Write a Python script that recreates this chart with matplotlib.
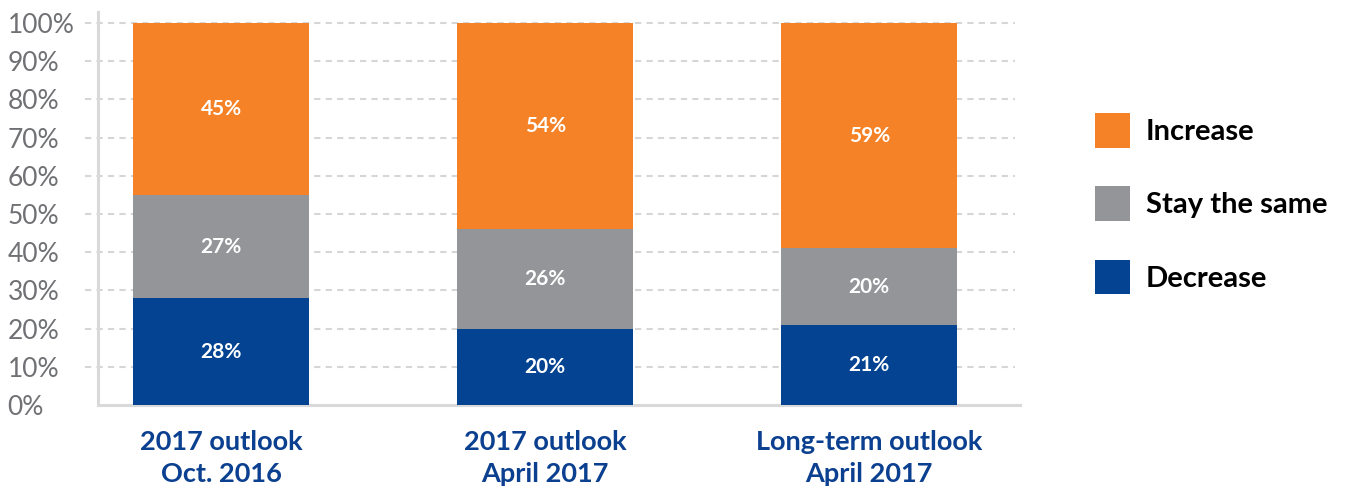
import matplotlib
matplotlib.use("Agg")
import matplotlib.pyplot as plt
from matplotlib.patches import Patch
import numpy as np

categories = ["2017 outlook\nOct. 2016", "2017 outlook\nApril 2017", "Long-term outlook\nApril 2017"]
decrease = [28, 20, 21]
stay_same = [27, 26, 20]
increase = [45, 54, 59]
series_names = ["Increase", "Stay the same", "Decrease"]
ytick_values = [0, 10, 20, 30, 40, 50, 60, 70, 80, 90, 100]
ytick_labels = [f"{v}%" for v in ytick_values]

c_inc = "#F58227"
c_same = "#939598"
c_dec = "#034391"
c_cat = "#0B3F8F"
c_grid = "#D6D6D6"

plt.rcParams["font.family"] = ["Lato", "DejaVu Sans"]

fig = plt.figure(figsize=(13.46, 4.91), dpi=100)
ax = fig.add_axes([98 / 1346, 86 / 491, 922 / 1346, 393 / 491])

x = np.arange(len(categories))
w = 0.543
dec = np.array(decrease)
same = np.array(stay_same)
inc = np.array(increase)

ax.bar(x, dec, w, color=c_dec, zorder=3)
ax.bar(x, same, w, bottom=dec, color=c_same, zorder=3)
ax.bar(x, inc, w, bottom=dec + same, color=c_inc, zorder=3)

for i in range(len(x)):
    for val, bot in ((dec[i], 0), (same[i], dec[i]), (inc[i], dec[i] + same[i])):
        ax.text(x[i], bot + val / 2, f"{val}%", ha="center", va="center",
                color="white", fontsize=15, fontweight="bold", zorder=4)

ax.set_xlim(-0.38, 2.465)
ax.set_ylim(0, 102.9)

# dashed gridlines extending a little left of the axis
for v in ytick_values[1:]:
    ax.plot([-0.014, 0.995], [v, v], transform=ax.get_yaxis_transform(),
            color=c_grid, lw=1.5, ls=(0, (3, 2.5)), clip_on=False, zorder=0.5)

ax.set_yticks(ytick_values)
ax.set_yticklabels(ytick_labels)
ax.tick_params(axis="y", length=0, pad=65, labelsize=19, labelcolor="#707174")
for t in ax.get_yticklabels():
    t.set_horizontalalignment("left")
    t.set_fontweight("normal")

ax.set_xticks(x)
ax.set_xticklabels(categories, fontsize=19.5, fontweight="bold", color=c_cat, linespacing=1.4)
ax.tick_params(axis="x", length=0, pad=18)

for s in ("top", "right"):
    ax.spines[s].set_visible(False)
for s in ("left", "bottom"):
    ax.spines[s].set_color("#D9D9D9")
    ax.spines[s].set_linewidth(2.2)
    ax.spines[s].set_zorder(1)

handles = [Patch(facecolor=c_inc), Patch(facecolor=c_same), Patch(facecolor=c_dec)]
fig.legend(handles, series_names, loc="upper left", bbox_to_anchor=(1095 / 1346, 1 - 113 / 491),
           frameon=False, prop={"weight": "bold", "size": 21},
           handlelength=1.2, handleheight=1.45, handletextpad=0.55, labelspacing=1.33,
           borderpad=0, borderaxespad=0)

fig.savefig("out.png", dpi=100)
